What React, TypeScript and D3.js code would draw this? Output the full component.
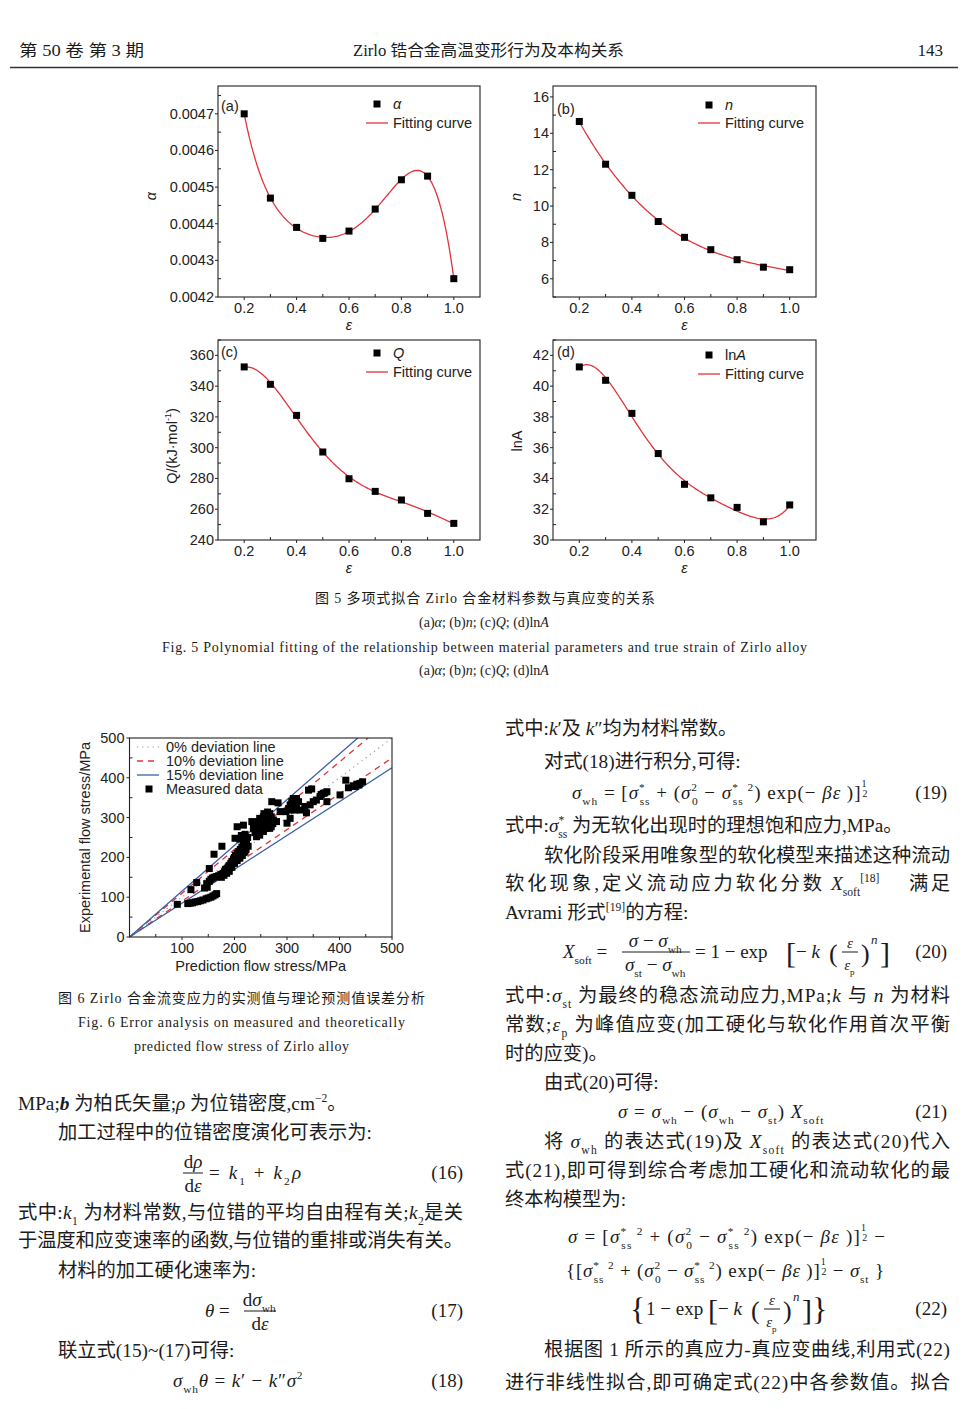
import React from "react";
import * as d3 from "d3";

// ---------------- data ----------------
const strain = [0.2, 0.3, 0.4, 0.5, 0.6, 0.7, 0.8, 0.9, 1.0];
const alphaValues = [0.0047, 0.00447, 0.00439, 0.00436, 0.00438, 0.00444, 0.00452, 0.00453, 0.00425];
const nValues = [14.65, 12.3, 10.59, 9.15, 8.28, 7.6, 7.05, 6.64, 6.5];
const qValues = [352.5, 341.2, 321.0, 297.2, 279.8, 271.6, 266.0, 257.3, 250.8];
const lnAValues = [41.25, 40.38, 38.23, 35.62, 33.62, 32.74, 32.12, 31.18, 32.28];

const strainTicks = [0.2, 0.4, 0.6, 0.8, 1.0];
const strainMinor = [0.3, 0.5, 0.7, 0.9];
const alphaTicks = [0.0042, 0.0043, 0.0044, 0.0045, 0.0046, 0.0047];
const nTicks = [6, 8, 10, 12, 14, 16];
const qTicks = [240, 260, 280, 300, 320, 340, 360];
const lnATicks = [30, 32, 34, 36, 38, 40, 42];

const stressTicks = [0, 100, 200, 300, 400, 500];
const deviationLabels = ["0% deviation line", "10% deviation line", "15% deviation line", "Measured data"];
const deviationFactors = [[1], [1.1, 0.9], [1.15, 0.85]];

// measured (prediction, experimental) flow stress, MPa
const measured: [number, number][] = [
  [91, 82],
  [111, 84], [116, 85], [120, 86], [125, 88], [130, 89], [135, 91], [140, 93], [146, 96], [150, 98], [155, 100], [159, 103], [163, 106], [166, 109],
  [117, 119], [128, 137], [143, 123], [148, 125],
  [147, 134], [152, 140], [155, 145], [158, 148], [161, 150], [166, 152], [170, 154], [174, 157], [178, 160], [181, 164], [184, 168], [186, 172],
  [188, 176], [190, 180], [193, 185], [195, 190], [198, 196], [200, 200], [202, 205], [205, 210], [208, 215], [211, 220], [214, 226], [217, 232],
  [220, 238], [223, 244], [225, 250],
  [175, 150], [180, 155], [185, 160], [190, 165], [195, 175], [183, 170], [200, 185], [205, 192], [210, 198], [215, 205], [218, 212], [222, 220],
  [226, 228], [220, 215],
  [152, 172], [161, 208], [176, 228], [201, 248], [210, 246], [205, 277], [217, 281], [213, 255], [220, 258],
  [233, 290], [236, 273], [239, 262], [242, 281], [245, 290], [248, 298], [252, 286], [255, 302], [258, 294], [261, 306], [264, 298], [267, 310],
  [270, 302], [264, 281], [261, 273], [255, 265], [248, 256], [242, 252], [252, 273], [267, 290], [274, 294], [270, 277], [267, 273], [258, 284],
  [262, 292], [250, 280], [246, 270], [240, 268], [256, 310], [263, 314], [268, 283], [273, 285], [257, 278], [253, 292],
  [271, 340], [283, 337], [287, 315], [280, 290], [300, 286], [306, 298],
  [298, 315], [303, 323], [306, 332], [309, 340], [312, 348], [315, 344], [318, 348], [322, 340], [312, 328], [306, 319], [315, 319], [325, 319],
  [318, 335], [309, 325],
  [337, 312], [334, 328], [344, 332], [350, 340], [356, 344], [363, 353], [369, 361], [376, 365], [341, 369], [347, 372], [376, 340], [365, 358],
  [372, 362],
  [401, 357], [412, 394], [417, 375], [426, 380], [433, 384], [439, 386], [444, 390], [430, 378], [437, 382],
];

// ---------------- helpers ----------------
const RED = "#e2333a";
const BLUE = "#3d5fa6";
const INK = "#1b1b1b";
const SANS = "'Liberation Sans', Arial, sans-serif";
const SERIF = "'Liberation Serif', 'Noto Sans CJK SC', serif";
const CJK = "'Liberation Serif', 'Noto Sans CJK SC', sans-serif";

function polyfit(xs: number[], ys: number[], deg: number) {
  const xm = d3.mean(xs) as number;
  const sc = 0.4;
  const n = deg + 1;
  const M = Array.from({ length: n }, () => new Array(n + 1).fill(0));
  xs.forEach((x0, k) => {
    const x = (x0 - xm) / sc;
    for (let i = 0; i < n; i++) {
      for (let j = 0; j < n; j++) M[i][j] += Math.pow(x, i + j);
      M[i][n] += ys[k] * Math.pow(x, i);
    }
  });
  for (let c = 0; c < n; c++) {
    let p = c;
    for (let r = c + 1; r < n; r++) if (Math.abs(M[r][c]) > Math.abs(M[p][c])) p = r;
    [M[c], M[p]] = [M[p], M[c]];
    for (let r = 0; r < n; r++) {
      if (r === c) continue;
      const f = M[r][c] / M[c][c];
      for (let k = c; k <= n; k++) M[r][k] -= f * M[c][k];
    }
  }
  const coef = M.map((row, i) => row[n] / row[i]);
  return (x0: number) => {
    const x = (x0 - xm) / sc;
    return coef.reduce((s, c, i) => s + c * Math.pow(x, i), 0);
  };
}

type SegO = { t: string; i?: boolean; b?: boolean; sub?: boolean; sup?: boolean; sh?: number; dx?: number; fs?: number; f?: string };
type Seg = string | SegO;

function runs(segs: Seg[], fs: number) {
  let shift = 0;
  const out: any[] = [];
  segs.forEach((s, idx) => {
    const o: SegO = typeof s === "string" ? { t: s } : s;
    const target = o.sh !== undefined ? o.sh : o.sub ? fs * 0.3 : o.sup ? -fs * 0.42 : 0;
    const size = o.fs !== undefined ? o.fs : o.sub || o.sup ? fs * 0.6 : undefined;
    out.push(
      <tspan
        key={idx}
        dy={target - shift}
        dx={o.dx}
        fontStyle={o.i ? "italic" : undefined}
        fontWeight={o.b ? "bold" : undefined}
        fontSize={size}
        fontFamily={o.f}
      >
        {o.t}
      </tspan>
    );
    shift = target;
  });
  if (shift !== 0) out.push(<tspan key="reset" dy={-shift}>{"\u200a"}</tspan>);
  return out;
}

function T(props: { x: number; y: number; segs: Seg[]; fs?: number; anchor?: string; len?: number; adj?: string; family?: string }) {
  const fs = props.fs || 19.3;
  return (
    <text
      x={props.x}
      y={props.y}
      fontSize={fs}
      fontFamily={props.family || CJK}
      fill={INK}
      textAnchor={props.anchor || "start"}
      textLength={props.len}
      lengthAdjust={props.len ? props.adj || "spacing" : undefined}
    >
      {runs(props.segs, fs)}
    </text>
  );
}

const I = (t: string): SegO => ({ t, i: true });
const Sb = (t: string, dx?: number): SegO => ({ t, sub: true, dx });
const Sp = (t: string, dx?: number): SegO => ({ t, sup: true, dx });
const sig = (s: string): Seg[] => [I("σ"), Sb(s)];
const sigStar: Seg[] = [I("σ"), Sp("*"), Sb("ss", -6)];
const half: Seg[] = [{ t: "1", sh: -12, fs: 10 }, { t: "2", sh: -2, fs: 10, dx: -5 }];

function Frac(props: { cx: number; y: number; num: Seg[]; den: Seg[]; w: number; fs?: number; gap?: number }) {
  const fs = props.fs || 19;
  const g = props.gap || 0;
  return (
    <g>
      <T x={props.cx} y={props.y - 11 - g} segs={props.num} fs={fs} anchor="middle" family={SERIF} />
      <line x1={props.cx - props.w / 2} x2={props.cx + props.w / 2} y1={props.y - 6} y2={props.y - 6} stroke={INK} strokeWidth={1} />
      <T x={props.cx} y={props.y + 13 + g} segs={props.den} fs={fs} anchor="middle" family={SERIF} />
    </g>
  );
}

// ---------------- Fig. 5 panels ----------------
type PanelCfg = {
  key: string; l: number; r: number; t: number; b: number;
  values: number[]; yDomain: [number, number]; ticks: number[]; minorStep: number; fmt: (d: number) => string; deg: number;
  tag: string; tagX: number; tagY: number;
  name: Seg[]; lx: number; ly: number; ly2: number;
  yTitle: Seg[]; ytX: number; ytY: number;
};

const panels: PanelCfg[] = [
  {
    key: "a", l: 218, r: 480, t: 86, b: 297, values: alphaValues, yDomain: [0.0042, 0.004776], ticks: alphaTicks, minorStep: 0.00005,
    fmt: (d) => d.toFixed(4), deg: 6, tag: "(a)", tagX: 221, tagY: 111, name: [I("α")], lx: 377, ly: 104, ly2: 123,
    yTitle: [I("α")], ytX: 156, ytY: 196,
  },
  {
    key: "b", l: 553, r: 816, t: 86, b: 297, values: nValues, yDomain: [5, 16.6], ticks: nTicks, minorStep: 1,
    fmt: (d) => String(d), deg: 3, tag: "(b)", tagX: 557, tagY: 114, name: [I("n")], lx: 709, ly: 105, ly2: 123,
    yTitle: [I("n")], ytX: 521, ytY: 197,
  },
  {
    key: "c", l: 218, r: 480, t: 340, b: 540, values: qValues, yDomain: [240, 370], ticks: qTicks, minorStep: 10,
    fmt: (d) => String(d), deg: 5, tag: "(c)", tagX: 221, tagY: 357, name: [I("Q")], lx: 377, ly: 353, ly2: 372,
    yTitle: ["Q/(kJ·mol", { t: "-1", sup: true, fs: 9 }, ")"], ytX: 177, ytY: 446,
  },
  {
    key: "d", l: 553, r: 816, t: 340, b: 540, values: lnAValues, yDomain: [30, 43], ticks: lnATicks, minorStep: 1,
    fmt: (d) => String(d), deg: 5, tag: "(d)", tagX: 557, tagY: 357, name: ["ln", I("A")], lx: 709, ly: 355, ly2: 374,
    yTitle: ["lnA"], ytX: 522, ytY: 441,
  },
];

function Panel({ c }: { c: PanelCfg }) {
  const x = d3.scaleLinear().domain([0.1, 1.1]).range([c.l, c.r]);
  const y = d3.scaleLinear().domain(c.yDomain).range([c.b, c.t]);
  const fit = polyfit(strain, c.values, c.deg);
  const samples = d3.range(0, 161).map((i) => 0.2 + i * 0.005);
  const path = d3.line<number>().x((v) => x(v)).y((v) => y(fit(v)))(samples) || "";
  const minors: number[] = [];
  const cand = [c.ticks[0] - c.minorStep, ...c.ticks.map((t) => t + c.minorStep)];
  cand.forEach((m) => {
    if (m >= c.yDomain[0] - 1e-12 && m <= c.yDomain[1] + 1e-12) minors.push(m);
  });
  const fs = 14.5;
  return (
    <g>
      <rect x={c.l} y={c.t} width={c.r - c.l} height={c.b - c.t} fill="none" stroke="#222" strokeWidth={1.1} />
      {c.ticks.map((t) => (
        <g key={"y" + t}>
          <line x1={c.l - 3} x2={c.l} y1={y(t)} y2={y(t)} stroke="#222" />
          <text x={c.l - 4} y={y(t) + 5} fontSize={fs} fontFamily={SANS} textAnchor="end" fill="#222">{c.fmt(t)}</text>
        </g>
      ))}
      {minors.map((m) => (
        <line key={"ym" + m} x1={c.l} x2={c.l + 3} y1={y(m)} y2={y(m)} stroke="#222" />
      ))}
      {strainTicks.map((t) => (
        <g key={"x" + t}>
          <line x1={x(t)} x2={x(t)} y1={c.b} y2={c.b + 3} stroke="#222" />
          <text x={x(t)} y={c.b + 16} fontSize={fs} fontFamily={SANS} textAnchor="middle" fill="#222">{t.toFixed(1)}</text>
        </g>
      ))}
      {strainMinor.map((t) => (
        <line key={"xm" + t} x1={x(t)} x2={x(t)} y1={c.b} y2={c.b - 3} stroke="#222" />
      ))}
      <path d={path} fill="none" stroke={RED} strokeWidth={1.3} />
      {strain.map((s, i) => (
        <rect key={"p" + i} x={x(s) - 3.5} y={y(c.values[i]) - 3.5} width={7} height={7} fill="#000" />
      ))}
      <text x={c.tagX} y={c.tagY} fontSize={fs} fontFamily={SANS} fill="#222">{c.tag}</text>
      <rect x={c.lx - 3.5} y={c.ly - 3.5} width={7} height={7} fill="#000" />
      <T x={c.lx + 16} y={c.ly + 5} segs={c.name} fs={fs} family={SANS} />
      <line x1={c.lx - 11} x2={c.lx + 11} y1={c.ly2} y2={c.ly2} stroke={RED} strokeWidth={1.3} />
      <text x={c.lx + 16} y={c.ly2 + 5} fontSize={fs} fontFamily={SANS} fill="#222">Fitting curve</text>
      <text x={(c.l + c.r) / 2} y={c.b + 33} fontSize={fs} fontFamily={SANS} fontStyle="italic" textAnchor="middle" fill="#222">ε</text>
      <g transform={`translate(${c.ytX},${c.ytY}) rotate(-90)`}>
        <T x={0} y={0} segs={c.yTitle} fs={fs} family={SANS} anchor="middle" />
      </g>
    </g>
  );
}

// ---------------- Fig. 6 scatter ----------------
function Scatter() {
  const L = 129.5, R = 392, Tp = 738, B = 937;
  const x = d3.scaleLinear().domain([0, 500]).range([L, R]);
  const y = d3.scaleLinear().domain([0, 500]).range([B, Tp]);
  const fs = 14.5;
  const styles = [
    { stroke: "#9a9a9a", dash: "1.2 4", w: 1.2 },
    { stroke: RED, dash: "6 5", w: 1.3 },
    { stroke: BLUE, dash: undefined, w: 1.3 },
  ];
  const minors = [50, 150, 250, 350, 450];
  const legY = [747, 761, 775, 789];
  return (
    <g>
      <defs>
        <clipPath id="scClip"><rect x={L} y={Tp} width={R - L} height={B - Tp} /></clipPath>
      </defs>
      <g clipPath="url(#scClip)">
        {deviationFactors.map((fs2, gi) =>
          fs2.map((f, k) => {
            const xe = Math.min(500, 500 / f);
            return (
              <line key={gi + "-" + k} x1={x(0)} y1={y(0)} x2={x(xe)} y2={y(f * xe)} stroke={styles[gi].stroke}
                strokeWidth={styles[gi].w} strokeDasharray={styles[gi].dash} />
            );
          })
        )}
      </g>
      {measured.map((d, i) => (
        <rect key={i} x={x(d[0]) - 3.5} y={y(d[1]) - 3.5} width={7} height={7} fill="#000" />
      ))}
      <rect x={L} y={Tp} width={R - L} height={B - Tp} fill="none" stroke="#222" strokeWidth={1.1} />
      {stressTicks.map((t) => (
        <g key={"sy" + t}>
          <line x1={L - 3} x2={L} y1={y(t)} y2={y(t)} stroke="#222" />
          <text x={L - 5} y={y(t) + 5} fontSize={fs} fontFamily={SANS} textAnchor="end" fill="#222">{t}</text>
        </g>
      ))}
      {stressTicks.filter((t) => t > 0).map((t) => (
        <g key={"sx" + t}>
          <line x1={x(t)} x2={x(t)} y1={B} y2={B + 3} stroke="#222" />
          <text x={x(t)} y={B + 16} fontSize={fs} fontFamily={SANS} textAnchor="middle" fill="#222">{t}</text>
        </g>
      ))}
      {minors.map((m) => (
        <g key={"sm" + m}>
          <line x1={L} x2={L + 3} y1={y(m)} y2={y(m)} stroke="#222" />
          <line x1={x(m)} x2={x(m)} y1={B} y2={B - 3} stroke="#222" />
        </g>
      ))}
      {deviationLabels.map((lab, i) => (
        <g key={"lg" + i}>
          {i < 3 ? (
            <line x1={137} x2={159} y1={legY[i]} y2={legY[i]} stroke={styles[i].stroke} strokeWidth={styles[i].w} strokeDasharray={styles[i].dash} />
          ) : (
            <rect x={145.5} y={legY[i] - 3.5} width={7} height={7} fill="#000" />
          )}
          <text x={166} y={legY[i] + 5} fontSize={fs} fontFamily={SANS} fill="#222">{lab}</text>
        </g>
      ))}
      <text x={(L + R) / 2} y={971} fontSize={fs} fontFamily={SANS} textAnchor="middle" fill="#222">Prediction flow stress/MPa</text>
      <text transform={`translate(90,${(Tp + B) / 2}) rotate(-90)`} fontSize={fs} fontFamily={SANS} textAnchor="middle" fill="#222">
        Experimental flow stress/MPa
      </text>
    </g>
  );
}

// ---------------- page text ----------------
function Equations() {
  const F = SERIF;
  const fs = 19;
  const lbr = (x: number, y: number, ch: string, size = 30) => (
    <text x={x} y={y} fontSize={size} fontFamily={F} fill={INK}>{ch}</text>
  );
  return (
    <g>
      {/* (19) */}
      <T x={572} y={799} fs={fs} family={F} len={298} segs={[...sig("wh"), " = [", ...sigStar, " + (", I("σ"), Sp("2"), Sb("0", -6), " − ", ...sigStar, Sp(" 2"), ") exp(− ", I("βε"), " )]", ...half]} />
      <T x={947} y={799} fs={fs} family={F} anchor="end" segs={["(19)"]} />

      {/* (20) */}
      <T x={563} y={958} fs={fs} family={F} segs={[I("X"), Sb("soft"), " ="]} />
      <Frac cx={656} y={958} w={68} num={[I("σ"), " − ", ...sig("wh")]} den={[...sig("st"), " − ", ...sig("wh")]} />
      <T x={695} y={958} fs={fs} family={F} segs={["= 1 − exp"]} />
      {lbr(786, 963, "[")}
      <T x={796} y={958} fs={fs} family={F} segs={["− ", I("k")]} />
      {lbr(829, 962, "(", 26)}
      <Frac cx={850} y={958} w={16} fs={15} gap={-1} num={[I("ε")]} den={[I("ε"), Sb("p")]} />
      {lbr(861, 962, ")", 26)}
      <T x={871} y={944} fs={13} family={F} segs={[I("n")]} />
      {lbr(880, 963, "]")}
      <T x={947} y={958} fs={fs} family={F} anchor="end" segs={["(20)"]} />

      {/* (21) */}
      <T x={618} y={1118} fs={fs} family={F} len={208} segs={[I("σ"), " = ", ...sig("wh"), " − (", ...sig("wh"), " − ", ...sig("st"), ") ", I("X"), Sb("soft")]} />
      <T x={947} y={1118} fs={fs} family={F} anchor="end" segs={["(21)"]} />

      {/* (22) */}
      <T x={568} y={1243} fs={fs} family={F} len={317} segs={[I("σ"), " = [", ...sigStar, Sp(" 2"), " + (", I("σ"), Sp("2"), Sb("0", -6), " − ", ...sigStar, Sp(" 2"), ") exp(− ", I("βε"), " )]", ...half, "  −"]} />
      <T x={566} y={1277} fs={fs} family={F} len={318} segs={["{[", ...sigStar, Sp(" 2"), " + (", I("σ"), Sp("2"), Sb("0", -6), " − ", ...sigStar, Sp(" 2"), ") exp(− ", I("βε"), " )]", ...half, " − ", ...sig("st"), " }"]} />
      {lbr(630, 1320, "{", 32)}
      <T x={646} y={1315} fs={fs} family={F} segs={["1 − exp"]} />
      {lbr(708, 1320, "[")}
      <T x={718} y={1315} fs={fs} family={F} segs={["− ", I("k")]} />
      {lbr(751, 1319, "(", 26)}
      <Frac cx={772} y={1315} w={16} fs={15} gap={-1} num={[I("ε")]} den={[I("ε"), Sb("p")]} />
      {lbr(783, 1319, ")", 26)}
      <T x={793} y={1301} fs={13} family={F} segs={[I("n")]} />
      {lbr(802, 1320, "]")}
      {lbr(812, 1320, "}", 32)}
      <T x={947} y={1315} fs={fs} family={F} anchor="end" segs={["(22)"]} />

      {/* (16) */}
      <Frac cx={193} y={1179} w={20} num={["d", I("ρ")]} den={["d", I("ε")]} />
      <T x={209} y={1179} fs={fs} family={F} len={92} segs={[" = ", I("k"), Sb("1"), " + ", I("k"), Sb("2"), I("ρ")]} />
      <T x={463} y={1179} fs={fs} family={F} anchor="end" segs={["(16)"]} />

      {/* (17) */}
      <T x={205} y={1317} fs={fs} family={F} segs={[I("θ"), " ="]} />
      <Frac cx={260} y={1317} w={32} num={["d", ...sig("wh")]} den={["d", I("ε")]} />
      <T x={463} y={1317} fs={fs} family={F} anchor="end" segs={["(17)"]} />

      {/* (18) */}
      <T x={173} y={1387} fs={fs} family={F} len={132} segs={[...sig("wh"), I("θ"), " = ", I("k"), "′ − ", I("k"), "″", I("σ"), Sp("2")]} />
      <T x={463} y={1387} fs={fs} family={F} anchor="end" segs={["(18)"]} />
    </g>
  );
}

function BodyText() {
  const RX = 505, RE = 950, RI = 544;
  const LX = 18, LE = 463, LI = 58;
  return (
    <g>
      {/* right column */}
      <T x={RX} y={735} segs={["式中:", I("k"), "′及 ", I("k"), "″均为材料常数。"]} />
      <T x={RI} y={768} segs={["对式(18)进行积分,可得:"]} />
      <T x={RX} y={832} segs={["式中:", ...sigStar, " 为无软化出现时的理想饱和应力,MPa。"]} />
      <T x={RI} y={862} len={RE - RI} segs={["软化阶段采用唯象型的软化模型来描述这种流动"]} />
      <T x={RX} y={890} len={317} segs={["软化现象,定义流动应力软化分数"]} />
      <T x={831} y={890} segs={[I("X"), Sb("soft"), Sp("[18]")]} />
      <T x={909} y={890} len={41} segs={["满足"]} />
      <T x={RX} y={919} segs={["Avrami 形式", Sp("[19]"), "的方程:"]} />
      <T x={RX} y={1002} len={RE - RX} segs={["式中:", ...sig("st"), " 为最终的稳态流动应力,MPa;", I("k"), " 与 ", I("n"), " 为材料"]} />
      <T x={RX} y={1031} len={RE - RX} segs={["常数;", I("ε"), Sb("p"), " 为峰值应变(加工硬化与软化作用首次平衡"]} />
      <T x={RX} y={1060} segs={["时的应变)。"]} />
      <T x={RI} y={1089} segs={["由式(20)可得:"]} />
      <T x={RI} y={1148} len={RE - RI} segs={["将 ", ...sig("wh"), " 的表达式(19)及 ", I("X"), Sb("soft"), " 的表达式(20)代入"]} />
      <T x={RX} y={1177} len={RE - RX} segs={["式(21),即可得到综合考虑加工硬化和流动软化的最"]} />
      <T x={RX} y={1206} segs={["终本构模型为:"]} />
      <T x={RI} y={1356} len={RE - RI} segs={["根据图 1 所示的真应力-真应变曲线,利用式(22)"]} />
      <T x={RX} y={1389} len={RE - RX} segs={["进行非线性拟合,即可确定式(22)中各参数值。拟合"]} />

      {/* left column */}
      <T x={LX} y={1110} segs={["MPa;", { t: "b", b: true, i: true }, " 为柏氏矢量;", I("ρ"), " 为位错密度,cm", Sp("−2"), "。"]} />
      <T x={LI} y={1139} segs={["加工过程中的位错密度演化可表示为:"]} />
      <T x={LX} y={1219} len={LE - LX} segs={["式中:", I("k"), Sb("1"), " 为材料常数,与位错的平均自由程有关;", I("k"), Sb("2"), "是关"]} />
      <T x={LX} y={1247} len={LE - LX} segs={["于温度和应变速率的函数,与位错的重排或消失有关。"]} />
      <T x={LI} y={1277} segs={["材料的加工硬化速率为:"]} />
      <T x={LI} y={1357} segs={["联立式(15)~(17)可得:"]} />
    </g>
  );
}

function Captions() {
  const fs = 14;
  return (
    <g>
      {/* header */}
      <T x={19} y={56} fs={16} len={125} adj="spacingAndGlyphs" segs={["第 50 卷  第 3 期"]} />
      <T x={353} y={56} fs={16} len={271} adj="spacingAndGlyphs" segs={["Zirlo 锆合金高温变形行为及本构关系"]} />
      <T x={943} y={56} fs={17} anchor="end" family={SERIF} segs={["143"]} />
      <line x1={10} x2={958} y1={67.5} y2={67.5} stroke="#333" strokeWidth={1.3} />

      {/* Fig. 5 caption */}
      <T x={315} y={603} fs={fs} len={340} segs={["图 5   多项式拟合 Zirlo 合金材料参数与真应变的关系"]} />
      <T x={484} y={627} fs={fs} anchor="middle" family={SERIF} segs={["(a)", I("α"), "; (b)", I("n"), "; (c)", I("Q"), "; (d)ln", I("A")]} />
      <T x={162} y={652} fs={fs} len={645} family={SERIF} segs={["Fig. 5    Polynomial fitting of the relationship between material parameters and true strain of Zirlo alloy"]} />
      <T x={484} y={675} fs={fs} anchor="middle" family={SERIF} segs={["(a)", I("α"), "; (b)", I("n"), "; (c)", I("Q"), "; (d)ln", I("A")]} />

      {/* Fig. 6 caption */}
      <T x={58} y={1003} fs={fs} len={367} segs={["图 6   Zirlo 合金流变应力的实测值与理论预测值误差分析"]} />
      <T x={78} y={1027} fs={fs} len={327} family={SERIF} segs={["Fig. 6    Error analysis on measured and theoretically"]} />
      <T x={134} y={1051} fs={fs} len={215} family={SERIF} segs={["predicted flow stress of Zirlo alloy"]} />
    </g>
  );
}

export default function App() {
  return (
    <svg width={968} height={1409} style={{ position: "absolute", left: 0, top: 0, background: "#fff" }}>
      <rect x={0} y={0} width={968} height={1409} fill="#fff" />
      <Captions />
      {panels.map((p) => (
        <Panel key={p.key} c={p} />
      ))}
      <Scatter />
      <BodyText />
      <Equations />
    </svg>
  );
}
